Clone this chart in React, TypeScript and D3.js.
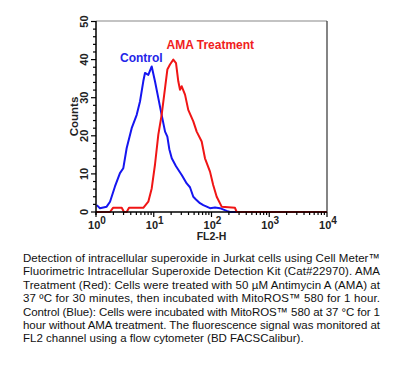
import React, { useEffect, useRef } from 'react';
import * as d3 from 'd3';

// FL2-H values (log axis) and counts
const controlFL2 = [1.03, 1.17, 1.53, 1.75, 2.13, 2.6, 2.97, 3.4, 4.15, 5.07, 5.78, 6.59, 7.05, 8.05, 9.22, 10.5, 12.0, 13.7, 15.7, 17.2, 18.6, 20.5, 24.3, 30.5, 37.2, 42.4, 48.4, 53.8, 63.1, 72.1, 82.6, 94.2, 115, 140, 183, 209, 10000];
const controlCounts = [1.8, 1.0, 1.4, 2.7, 6.7, 10.2, 11.5, 16.8, 22, 25.5, 29, 34.3, 36.5, 36, 38.2, 34.3, 29.9, 25.5, 21.1, 19.8, 16.5, 14.1, 12, 9.7, 7.5, 6.5, 4, 3.3, 2.3, 1.8, 1.4, 1.0, 1.2, 1.0, 0.3, 0, 0];

const amaFL2 = [1, 1.43, 1.75, 1.97, 2.79, 3.05, 3.4, 3.73, 6.59, 8.05, 9.22, 10.5, 12.0, 13.7, 15.7, 17.2, 19.1, 21.8, 24.3, 26.6, 28.5, 30.5, 34.8, 39.6, 48.4, 55.4, 67.6, 77.1, 94.2, 107, 123, 150, 255, 273, 10000];
const amaCounts = [0, 0, 0, 1.1, 1.1, 0, 0, 1.1, 1.1, 2.7, 6.2, 12.4, 20.3, 25.5, 32.6, 37.4, 38.7, 40, 39.1, 34.3, 32.1, 33, 30.8, 26.8, 23.8, 21.1, 18.5, 14.1, 10.6, 7.1, 4, 1.4, 1.1, 0, 0];

const yTicks = [0, 10, 20, 30, 40, 50];
const xDecades = [0, 1, 2, 3, 4];

const captionLines = [
  'Detection of intracellular superoxide in Jurkat cells using Cell Meter™',
  'Fluorimetric Intracellular Superoxide Detection Kit (Cat#22970). AMA',
  'Treatment (Red): Cells were treated with 50 µM Antimycin A (AMA) at',
  '37 ºC for 30 minutes, then incubated with MitoROS™ 580 for 1 hour.',
  'Control (Blue): Cells were incubated with MitoROS™ 580 at 37 °C for 1',
  'hour without AMA treatment. The fluorescence signal was monitored at',
  'FL2 channel using a flow cytometer (BD FACSCalibur).',
];

const W = 400;
const H = 365;
const plot = { left: 96, right: 327, top: 21, bottom: 212 };

export default function App() {
  const ref = useRef<SVGSVGElement>(null);

  useEffect(() => {
    const svg = d3.select(ref.current);
    svg.selectAll('*').remove();

    const x = d3.scaleLog().domain([1, 10000]).range([plot.left, plot.right]);
    const y = d3.scaleLinear().domain([0, 50]).range([plot.bottom, plot.top + 0.5]);
    const font = 'Arial, "Liberation Sans", sans-serif';

    // frame: grey top, dark right
    svg.append('line')
      .attr('x1', plot.left).attr('x2', plot.right)
      .attr('y1', plot.top).attr('y2', plot.top)
      .attr('stroke', '#888').attr('stroke-width', 1.2);
    svg.append('line')
      .attr('x1', plot.right).attr('x2', plot.right)
      .attr('y1', plot.top).attr('y2', plot.bottom)
      .attr('stroke', '#333').attr('stroke-width', 1.2);

    // curves
    const line = d3.line<[number, number]>()
      .x(d => x(d[0]))
      .y(d => y(d[1]));
    const series = [
      { xs: controlFL2, ys: controlCounts, color: '#1515f0' },
      { xs: amaFL2, ys: amaCounts, color: '#f01515' },
    ];
    series.forEach(s => {
      svg.append('path')
        .datum(s.xs.map((v, i) => [v, s.ys[i]] as [number, number]))
        .attr('d', line)
        .attr('fill', 'none')
        .attr('stroke', s.color)
        .attr('stroke-width', 2)
        .attr('stroke-linejoin', 'round');
    });

    // y axis
    const yAxis = svg.append('g');
    yAxis.append('line')
      .attr('x1', plot.left).attr('x2', plot.left)
      .attr('y1', plot.top).attr('y2', plot.bottom + 3)
      .attr('stroke', '#000').attr('stroke-width', 1.5);
    d3.range(0, 51, 2).forEach(v => {
      const major = v % 10 === 0;
      yAxis.append('line')
        .attr('x1', plot.left - (major ? 5 : 3)).attr('x2', plot.left)
        .attr('y1', y(v)).attr('y2', y(v))
        .attr('stroke', '#000').attr('stroke-width', 1.2);
    });
    yTicks.forEach(v => {
      yAxis.append('text')
        .attr('transform', `translate(88,${y(v)}) rotate(-90)`)
        .attr('text-anchor', 'middle')
        .attr('font-family', font)
        .attr('font-size', 11)
        .attr('font-weight', 'bold')
        .attr('fill', '#222')
        .text(v);
    });
    yAxis.append('text')
      .attr('transform', `translate(77.5,${(plot.top + plot.bottom) / 2}) rotate(-90)`)
      .attr('text-anchor', 'middle')
      .attr('font-family', font)
      .attr('font-size', 11.5)
      .attr('font-weight', 'bold')
      .attr('fill', '#222')
      .text('Counts');

    // x axis (log)
    const xAxis = svg.append('g');
    xAxis.append('line')
      .attr('x1', plot.left).attr('x2', plot.right)
      .attr('y1', plot.bottom).attr('y2', plot.bottom)
      .attr('stroke', '#000').attr('stroke-width', 1.5);
    xDecades.forEach(dec => {
      const base = Math.pow(10, dec);
      const mult = dec < 4 ? d3.range(1, 10) : [1];
      mult.forEach(m => {
        const v = base * m;
        xAxis.append('line')
          .attr('x1', x(v)).attr('x2', x(v))
          .attr('y1', plot.bottom).attr('y2', plot.bottom + (m === 1 ? 5 : 3))
          .attr('stroke', '#000').attr('stroke-width', 1.2);
      });
      const t = xAxis.append('text')
        .attr('x', x(base) + 1)
        .attr('y', 228.5)
        .attr('text-anchor', 'middle')
        .attr('font-family', font)
        .attr('font-size', 11)
        .attr('font-weight', 'bold')
        .attr('fill', '#222');
      t.append('tspan').text('10');
      t.append('tspan').attr('dy', -5).attr('font-size', 10).text(dec);
    });
    xAxis.append('text')
      .attr('x', (plot.left + plot.right) / 2)
      .attr('y', 240)
      .attr('text-anchor', 'middle')
      .attr('font-family', font)
      .attr('font-size', 10.5)
      .attr('font-weight', 'bold')
      .attr('fill', '#222')
      .text('FL2-H');

    // labels
    svg.append('text')
      .attr('x', 120).attr('y', 61.5)
      .attr('font-family', font).attr('font-size', 12).attr('font-weight', 'bold')
      .attr('fill', '#2424e8')
      .text('Control');
    svg.append('text')
      .attr('x', 166.5).attr('y', 49)
      .attr('font-family', font).attr('font-size', 12).attr('font-weight', 'bold')
      .attr('fill', '#f02020')
      .text('AMA Treatment');

    // caption, justified except the last line
    captionLines.forEach((l, i) => {
      const t = svg.append('text')
        .attr('x', 23)
        .attr('y', 262 + i * 13.4)
        .attr('font-family', font)
        .attr('font-size', 11.5)
        .attr('fill', '#111')
        .text(l);
      if (i < captionLines.length - 1) {
        t.attr('textLength', 357).attr('lengthAdjust', 'spacing');
      }
    });
  }, []);

  return (
    <div style={{ position: 'absolute', left: 0, top: 0 }}>
      <svg ref={ref} width={W} height={H} style={{ display: 'block', background: '#fff' }} />
    </div>
  );
}
